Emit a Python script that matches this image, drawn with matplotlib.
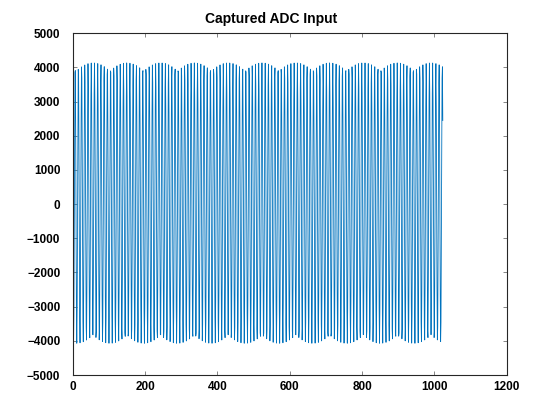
import matplotlib
matplotlib.use("Agg")
import matplotlib.pyplot as plt
import numpy as np

# capture settings
n_samples = 1024
amplitude = 4100.0      # counts
dc_offset = 30.0        # counts
cycles_per_sample = 0.11230
start_phase = 3.247     # rad

x_ticks = [0, 200, 400, 600, 800, 1000, 1200]
y_ticks = [-5000, -4000, -3000, -2000, -1000, 0, 1000, 2000, 3000, 4000, 5000]

samples = np.arange(n_samples)
adc = dc_offset + amplitude * np.sin(2 * np.pi * cycles_per_sample * samples + start_phase)

plt.rcParams['font.family'] = ['Liberation Sans', 'DejaVu Sans']

fig = plt.figure(figsize=(5.6, 4.2), dpi=100)
ax = fig.add_axes([0.13, 0.107, 0.775, 0.814])
ax.plot(samples, adc, color='#0072BD', linewidth=0.6)

ax.set_xlim(0, 1200)
ax.set_ylim(-5000, 5000)
ax.set_xticks(x_ticks)
ax.set_yticks(y_ticks)
ax.tick_params(direction='in', top=True, right=True, length=3, width=0.5,
               color='#555555', labelsize=8.5)
ax.tick_params(axis='y', pad=9)
ax.tick_params(axis='x', pad=4)
for lab in ax.get_xticklabels() + ax.get_yticklabels():
    lab.set_fontweight('bold')
for s in ax.spines.values():
    s.set_color('#262626')
    s.set_linewidth(0.8)
ax.set_title('Captured ADC Input', fontsize=10, fontweight='bold', pad=7, x=0.457)

fig.savefig('out.png', dpi=100)
